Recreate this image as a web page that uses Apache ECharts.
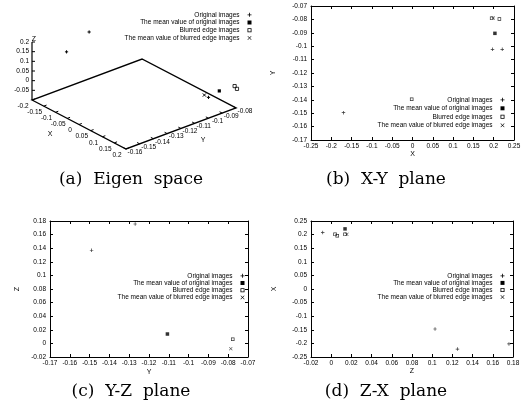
<!DOCTYPE html>
<html><head><meta charset="utf-8">
<script src="https://cdn.jsdelivr.net/npm/echarts@6/dist/echarts.min.js"></script>
<style>html,body{margin:0;padding:0;background:#fff}#c{width:525px;height:409px}</style>
</head><body><div id="c"></div>
<script>
// ---------- data ----------
const seriesNames = ['Original images', 'The mean value of original images', 'Blurred edge images', 'The mean value of blurred edge images'];
const captions = ['(a)  Eigen  space', '(b)  X-Y  plane', '(c)  Y-Z  plane', '(d)  Z-X  plane'];

// (a) eigen space, points [X, Y, Z]
const eigenOriginal = [[0.2, -0.1, 0.008], [-0.15, -0.127, 0.196], [-0.17, -0.14, 0.115]];
const eigenMeanOriginal = [[0.205, -0.093, 0.026]];
const eigenBlurred = [[0.2, -0.081, 0.016], [0.21, -0.081, 0.008]];
const eigenMeanBlurred = [[0.2, -0.103, 0.028]];
const eigenXRange = [-0.2, 0.2], eigenYRange = [-0.16, -0.08], eigenZRange = [-0.1, 0.2];
const eigenXTicks = [-0.2, -0.15, -0.1, -0.05, 0, 0.05, 0.1, 0.15, 0.2];
const eigenYTicks = [-0.16, -0.15, -0.14, -0.13, -0.12, -0.11, -0.1, -0.09, -0.08];
const eigenZTicks = [-0.05, 0, 0.05, 0.1, 0.15, 0.2];

// (b) X-Y plane [X, Y]
const xyOriginal = [[0.197, -0.1023], [0.221, -0.1023], [-0.170, -0.1496]];
const xyMeanOriginal = [[0.203, -0.0904]];
const xyBlurred = [[0.195, -0.0792], [0.214, -0.0797], [-0.002, -0.1396]];
const xyMeanBlurred = [[0.199, -0.0790]];
const xyXRange = [-0.25, 0.25], xyXStep = 0.05, xyYRange = [-0.17, -0.07], xyYStep = 0.01;

// (c) Y-Z plane [Y, Z]
const yzOriginal = [[-0.127, 0.1756], [-0.149, 0.137]];
const yzMeanOriginal = [[-0.1107, 0.0138]];
const yzBlurred = [[-0.0777, 0.006]];
const yzMeanBlurred = [[-0.0787, -0.0078]];
const yzXRange = [-0.17, -0.07], yzXStep = 0.01, yzYRange = [-0.02, 0.18], yzYStep = 0.02;

// (d) Z-X plane [Z, X]
const zxOriginal = [[-0.0084, 0.208], [0.1028, -0.147], [0.125, -0.221], [0.176, -0.202]];
const zxMeanOriginal = [[0.0137, 0.221]];
const zxBlurred = [[0.0038, 0.201], [0.006, 0.196], [0.0137, 0.201]];
const zxMeanBlurred = [[0.0155, 0.201]];
const zxXRange = [-0.02, 0.18], zxXStep = 0.02, zxYRange = [-0.25, 0.25], zxYStep = 0.05;

// ---------- styles ----------
const SANS = 'Liberation Sans';
const SERIF = 'DejaVu Serif';
const symbolPaths = [
  'path://M4,0H6V4H10V6H6V10H4V6H0V4H4Z',             // plus
  'path://M0,0H10V10H0Z',                              // filled square
  'path://M0,0H10V10H0ZM2,2V8H8V2Z',                   // hollow square
  'path://M1,0L5,4L9,0L10,1L6,5L10,9L9,10L5,6L1,10L0,9L4,5L0,1Z' // cross
];
const legendData = seriesNames.map((n, i) => ({ name: n, icon: symbolPaths[i] }));

// 3D projection layout for panel (a)
const P3 = { ox: 32, oy: 100, vx: [94, 49], vy: [110, -41], vz: [0, -58] };
function proj(x, y, z) {
  const fx = (x - eigenXRange[0]) / (eigenXRange[1] - eigenXRange[0]);
  const fy = (y - eigenYRange[0]) / (eigenYRange[1] - eigenYRange[0]);
  const fz = (z - eigenZRange[0]) / (eigenZRange[1] - eigenZRange[0]);
  return [P3.ox + fx * P3.vx[0] + fy * P3.vy[0] + fz * P3.vz[0],
          P3.oy + fx * P3.vx[1] + fy * P3.vy[1] + fz * P3.vz[1]];
}
function fmt(v) { return String(Math.round(v * 1000) / 1000); }
function line(a, b, w) { return { type: 'line', shape: { x1: a[0], y1: a[1], x2: b[0], y2: b[1] }, style: { stroke: '#000', lineWidth: w || 1 } }; }
function txt(p, s, align, size) { return { type: 'text', x: p[0], y: p[1], style: { text: s, fill: '#000', font: (size || 6.5) + 'px ' + SANS, align: align || 'center', verticalAlign: 'middle' } }; }

function frameRender() {
  const [x0, x1] = eigenXRange, [y0, y1] = eigenYRange, [z0, z1] = eigenZRange;
  const ch = [];
  const c = [proj(x0, y0, z0), proj(x1, y0, z0), proj(x1, y1, z0), proj(x0, y1, z0)];
  ch.push({ type: 'polygon', shape: { points: c }, style: { stroke: '#000', fill: null, lineWidth: 1.4 } });
  ch.push(line(proj(x0, y0, z0), proj(x0, y0, z1), 1.2));
  const ly = Math.hypot(P3.vy[0], P3.vy[1]), lx = Math.hypot(P3.vx[0], P3.vx[1]);
  const ty = [P3.vy[0] / ly * 3, P3.vy[1] / ly * 3], tx = [-P3.vx[0] / lx * 3, -P3.vx[1] / lx * 3];
  eigenXTicks.forEach(v => {
    const p = proj(v, y0, z0);
    ch.push(line(p, [p[0] + ty[0], p[1] + ty[1]]));
    ch.push(txt([p[0] - 9, p[1] + 6], fmt(v)));
  });
  eigenYTicks.forEach(v => {
    const p = proj(x1, v, z0);
    ch.push(line(p, [p[0] + tx[0], p[1] + tx[1]]));
    ch.push(txt([p[0] + 9, p[1] + 3], fmt(v)));
  });
  eigenZTicks.forEach(v => {
    const p = proj(x0, y0, v);
    ch.push(line(p, [p[0] + 3, p[1]]));
    ch.push(txt([p[0] - 3, p[1]], fmt(v), 'right'));
  });
  const pz = proj(x0, y0, z1);
  ch.push(txt([pz[0] + 2, pz[1] - 3], 'Z', 'center', 7));
  const pxn = proj((x0 + x1) / 2, y0, z0);
  ch.push(txt([pxn[0] - 29, pxn[1] + 10], 'X', 'center', 7));
  const pyn = proj(x1, (y0 + y1) / 2, z0);
  ch.push(txt([pyn[0] + 22, pyn[1] + 12], 'Y', 'center', 7));
  return { type: 'group', children: ch };
}

function pointRender(kind) {
  return function (params, api) {
    const p = proj(api.value(0), api.value(1), api.value(2));
    const s = 1.6;
    if (kind === 0) return { type: 'group', children: [line([p[0] - s, p[1]], [p[0] + s, p[1]]), line([p[0], p[1] - s], [p[0], p[1] + s])] };
    if (kind === 1) return { type: 'rect', shape: { x: p[0] - s, y: p[1] - s, width: 2 * s, height: 2 * s }, style: { fill: '#000' } };
    if (kind === 2) return { type: 'rect', shape: { x: p[0] - s, y: p[1] - s, width: 2 * s, height: 2 * s }, style: { fill: null, stroke: '#000', lineWidth: 0.8 } };
    return { type: 'group', children: [line([p[0] - s, p[1] - s], [p[0] + s, p[1] + s]), line([p[0] + s, p[1] - s], [p[0] - s, p[1] + s])] };
  };
}

// ---------- axes ----------
const grids = [
  { left: 311, top: 6, width: 203, height: 134 },
  { left: 50, top: 221, width: 198, height: 136 },
  { left: 311, top: 221, width: 202, height: 136 }
];
const xAxes = [], yAxes = [];
const axisCommon = {
  type: 'value', splitLine: { show: false },
  axisLine: { show: true, onZero: false, lineStyle: { color: '#000', width: 1 } },
  axisTick: { show: true, inside: true, length: 3, lineStyle: { color: '#000', width: 1 } },
  nameLocation: 'middle', nameTextStyle: { fontSize: 7, color: '#000', fontFamily: SANS }
};
function addAxes(gi, xr, xs, yr, ys, xName, yName, xGap, yGap) {
  const lab = { fontSize: 6.5, color: '#000', fontFamily: SANS, margin: 4 };
  xAxes.push(Object.assign({}, axisCommon, { gridIndex: gi, position: 'bottom', min: xr[0], max: xr[1], interval: xs, name: xName, nameGap: xGap, axisLabel: Object.assign({}, lab, { margin: 3 }) }));
  xAxes.push(Object.assign({}, axisCommon, { gridIndex: gi, position: 'top', min: xr[0], max: xr[1], interval: xs, axisLabel: { show: false } }));
  yAxes.push(Object.assign({}, axisCommon, { gridIndex: gi, position: 'left', min: yr[0], max: yr[1], interval: ys, name: yName, nameGap: yGap, axisLabel: lab }));
  yAxes.push(Object.assign({}, axisCommon, { gridIndex: gi, position: 'right', min: yr[0], max: yr[1], interval: ys, axisLabel: { show: false } }));
}
addAxes(0, xyXRange, xyXStep, xyYRange, xyYStep, 'X', 'Y', 10, 34);
addAxes(1, yzXRange, yzXStep, yzYRange, yzYStep, 'Y', 'Z', 12, 29);
addAxes(2, zxXRange, zxXStep, zxYRange, zxYStep, 'Z', 'X', 10, 33);

// ---------- series ----------
const series = [];
series.push({ type: 'custom', coordinateSystem: 'none', silent: true, data: [[0]], renderItem: frameRender });
[eigenOriginal, eigenMeanOriginal, eigenBlurred, eigenMeanBlurred].forEach((d, i) => {
  series.push({ type: 'custom', name: seriesNames[i], coordinateSystem: 'none', itemStyle: { color: '#000' }, data: d, renderItem: pointRender(i) });
});
const planeSets = [
  [xyOriginal, xyMeanOriginal, xyBlurred, xyMeanBlurred],
  [yzOriginal, yzMeanOriginal, yzBlurred, yzMeanBlurred],
  [zxOriginal, zxMeanOriginal, zxBlurred, zxMeanBlurred]
];
planeSets.forEach((set, gi) => {
  set.forEach((d, i) => {
    series.push({ type: 'scatter', name: seriesNames[i], xAxisIndex: gi * 2, yAxisIndex: gi * 2, data: d,
      symbol: symbolPaths[i], symbolSize: 3.5, itemStyle: { color: '#000' }, silent: true });
  });
});

function mkLegend(right, top, gap) {
  return { orient: 'vertical', right: right, top: top, align: 'right', itemGap: gap, itemWidth: 4, itemHeight: 4, padding: 0,
    selectedMode: false, data: legendData,
    textStyle: { fontSize: 6.5, lineHeight: 6, color: '#000', fontFamily: SANS, padding: [0, 3, 0, 0] } };
}

const option = {
  animation: false,
  backgroundColor: '#fff',
  title: [
    { text: captions[0], left: 131, top: 171, textAlign: 'center' },
    { text: captions[1], left: 386, top: 171, textAlign: 'center' },
    { text: captions[2], left: 131, top: 383, textAlign: 'center' },
    { text: captions[3], left: 386, top: 383, textAlign: 'center' }
  ].map(t => Object.assign(t, { padding: 0, textStyle: { fontFamily: SERIF, fontWeight: 'normal', fontSize: 17, color: '#000' } })),
  legend: [mkLegend(273.5, 11.3, 0.7), mkLegend(20.5, 96.3, 1.5), mkLegend(280.5, 272.3, 0.2), mkLegend(20.5, 272.3, 0.1)],
  grid: grids,
  xAxis: xAxes,
  yAxis: yAxes,
  series: series
};
const chart = echarts.init(document.getElementById('c'), null, { renderer: 'canvas', width: 525, height: 409 });
chart.setOption(option);
</script></body></html>
